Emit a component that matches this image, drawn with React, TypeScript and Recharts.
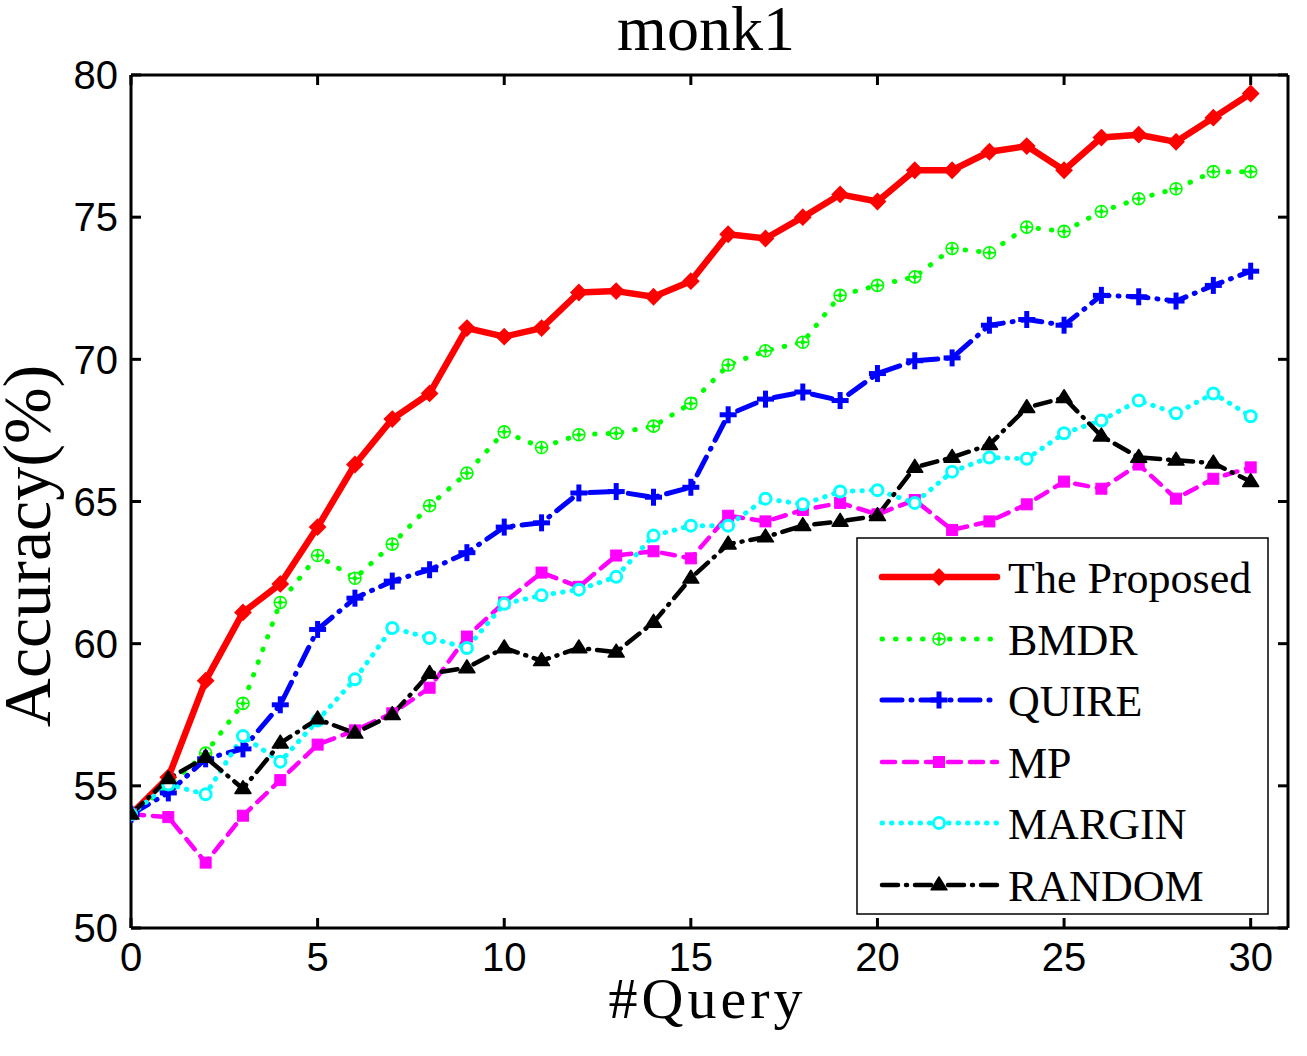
import React from 'react';
import { LineChart, Line, XAxis, YAxis, Label } from 'recharts';

const queries = [0, 1, 2, 3, 4, 5, 6, 7, 8, 9, 10, 11, 12, 13, 14, 15, 16, 17, 18, 19, 20, 21, 22, 23, 24, 25, 26, 27, 28, 29, 30];
const proposed = [54.0, 55.3, 58.7, 61.1, 62.1, 64.1, 66.3, 67.9, 68.8, 71.1, 70.8, 71.1, 72.35, 72.4, 72.2, 72.75, 74.4, 74.25, 75.0, 75.8, 75.55, 76.65, 76.65, 77.3, 77.5, 76.65, 77.8, 77.9, 77.65, 78.5, 79.35];
const bmdr = [54.0, 55.0, 56.15, 57.9, 61.45, 63.1, 62.3, 63.5, 64.85, 66.0, 67.45, 66.9, 67.35, 67.4, 67.65, 68.45, 69.8, 70.3, 70.6, 72.25, 72.6, 72.9, 73.9, 73.75, 74.65, 74.5, 75.2, 75.65, 76.0, 76.6, 76.6];
const quire = [54.0, 54.75, 55.95, 56.3, 57.85, 60.5, 61.6, 62.2, 62.6, 63.2, 64.1, 64.25, 65.3, 65.35, 65.15, 65.5, 68.05, 68.6, 68.85, 68.55, 69.5, 69.95, 70.05, 71.2, 71.4, 71.2, 72.25, 72.2, 72.05, 72.6, 73.1];
const mp = [54.0, 53.9, 52.3, 53.95, 55.2, 56.45, 56.95, 57.55, 58.45, 60.25, 61.45, 62.5, 62.0, 63.1, 63.25, 63.0, 64.5, 64.3, 64.7, 64.95, 64.55, 65.05, 64.0, 64.3, 64.9, 65.7, 65.45, 66.3, 65.1, 65.8, 66.2];
const margin = [54.0, 55.05, 54.7, 56.75, 55.85, 57.3, 58.75, 60.55, 60.2, 59.85, 61.4, 61.7, 61.9, 62.35, 63.8, 64.15, 64.15, 65.1, 64.9, 65.35, 65.4, 64.95, 66.05, 66.55, 66.5, 67.4, 67.85, 68.55, 68.1, 68.8, 68.0];
const random = [54.0, 55.25, 56.0, 54.9, 56.5, 57.35, 56.85, 57.5, 58.95, 59.15, 59.85, 59.4, 59.85, 59.7, 60.75, 62.3, 63.5, 63.75, 64.15, 64.3, 64.5, 66.2, 66.55, 67.0, 68.3, 68.65, 67.3, 66.55, 66.45, 66.35, 65.7];

const xTicks = [0, 5, 10, 15, 20, 25, 30];
const yTicks = [50, 55, 60, 65, 70, 75, 80];

const data = queries.map((q, i) => ({
  q,
  proposed: proposed[i],
  bmdr: bmdr[i],
  quire: quire[i],
  mp: mp[i],
  margin: margin[i],
  random: random[i],
}));

type Kind = 'diamond' | 'oplus' | 'plus' | 'square' | 'circle' | 'triangle';

const SERIES: { key: string; name: string; color: string; width: number; dash?: string; marker: Kind }[] = [
  { key: 'proposed', name: 'The Proposed', color: '#ff0000', width: 6.5, marker: 'diamond' },
  { key: 'bmdr', name: 'BMDR', color: '#00ff00', width: 5, dash: '0.5 13', marker: 'oplus' },
  { key: 'quire', name: 'QUIRE', color: '#0000ff', width: 5, dash: '20 9 1 9', marker: 'plus' },
  { key: 'mp', name: 'MP', color: '#ff00ff', width: 4.5, dash: '13 9', marker: 'square' },
  { key: 'margin', name: 'MARGIN', color: '#00ffff', width: 5, dash: '0.5 9', marker: 'circle' },
  { key: 'random', name: 'RANDOM', color: '#000000', width: 4.5, dash: '16 8 1 8', marker: 'triangle' },
];

function drawMarker(kind: Kind, cx: number, cy: number, color: string) {
  switch (kind) {
    case 'diamond': {
      const r = 7.5;
      return (
        <polygon
          points={`${cx},${cy - r} ${cx + r},${cy} ${cx},${cy + r} ${cx - r},${cy}`}
          fill={color}
          stroke={color}
          strokeWidth={2}
        />
      );
    }
    case 'oplus': {
      const r = 6;
      return (
        <g>
          <circle cx={cx} cy={cy} r={r} fill="#ffffff" stroke={color} strokeWidth={1.6} />
          <line x1={cx - r} y1={cy} x2={cx + r} y2={cy} stroke={color} strokeWidth={1.6} />
          <line x1={cx} y1={cy - r} x2={cx} y2={cy + r} stroke={color} strokeWidth={1.6} />
          <circle cx={cx} cy={cy} r={2.2} fill={color} />
        </g>
      );
    }
    case 'plus': {
      const r = 8.5;
      return (
        <g>
          <line x1={cx - r} y1={cy} x2={cx + r} y2={cy} stroke={color} strokeWidth={5} />
          <line x1={cx} y1={cy - r} x2={cx} y2={cy + r} stroke={color} strokeWidth={5} />
        </g>
      );
    }
    case 'square': {
      const s = 11;
      return <rect x={cx - s / 2} y={cy - s / 2} width={s} height={s} fill={color} stroke={color} strokeWidth={1} />;
    }
    case 'circle':
      return <circle cx={cx} cy={cy} r={5.5} fill="#ffffff" stroke={color} strokeWidth={3} />;
    case 'triangle': {
      const r = 8;
      return (
        <polygon
          points={`${cx},${cy - r} ${cx + r},${cy + r * 0.6} ${cx - r},${cy + r * 0.6}`}
          fill={color}
          stroke={color}
          strokeWidth={1.5}
          strokeLinejoin="round"
        />
      );
    }
  }
  return null;
}

const serif = "'Liberation Serif', 'Times New Roman', serif";

const LegendBox = () => {
  const rowY = [40, 102, 163, 225, 286, 348];
  return (
    <svg width={414} height={379} style={{ display: 'block' }}>
      <rect x={1} y={1} width={411} height={376} fill="#ffffff" stroke="#000000" strokeWidth={1.5} />
      {SERIES.map((s, i) => (
        <g key={s.key}>
          <line
            x1={26}
            y1={rowY[i]}
            x2={141}
            y2={rowY[i]}
            stroke={s.color}
            strokeWidth={s.width}
            strokeDasharray={s.dash}
            strokeLinecap="round"
          />
          {drawMarker(s.marker, 83, rowY[i], s.color)}
          <text x={152} y={rowY[i] + 16} fontFamily={serif} fontSize={44} fill="#000000">
            {s.name}
          </text>
        </g>
      ))}
    </svg>
  );
};

const axisLine = { stroke: '#000000', strokeWidth: 3 };
const tickLine = { stroke: '#000000', strokeWidth: 3 };
const tickFont = { fontFamily: "'Liberation Sans', Arial, sans-serif", fontSize: 40, fill: '#000000' };

export default function App() {
  return (
    <div style={{ width: 1307, height: 1056, position: 'relative', background: '#ffffff' }}>
      <style>{'body{margin:0;background:#ffffff;}'}</style>
      <LineChart
        width={1307}
        height={1056}
        data={data}
        margin={{ top: 74, right: 18, left: 0, bottom: 0 }}
      >
        <XAxis
          dataKey="q"
          type="number"
          domain={[0, 31]}
          ticks={xTicks}
          allowDataOverflow
          height={128}
          axisLine={axisLine}
          tickLine={tickLine}
          tickSize={-10}
          tickMargin={25}
          tick={tickFont}
        >
          <Label
            content={(props: any) => {
              const vb = props.viewBox || {};
              return (
                <text
                  x={vb.x + vb.width / 2 - 2}
                  y={1018}
                  textAnchor="middle"
                  fontFamily={serif}
                  fontSize={58}
                  letterSpacing={4}
                  fill="#000000"
                >
                  #Query
                </text>
              );
            }}
          />
        </XAxis>
        <XAxis
          xAxisId="top"
          orientation="top"
          dataKey="q"
          type="number"
          domain={[0, 31]}
          ticks={xTicks}
          allowDataOverflow
          height={1}
          axisLine={axisLine}
          tickLine={tickLine}
          tickSize={-10}
          tickFormatter={() => ''}
        />
        <YAxis
          type="number"
          domain={[50, 80]}
          ticks={yTicks}
          allowDataOverflow
          width={131}
          axisLine={axisLine}
          tickLine={tickLine}
          tickSize={-10}
          tickMargin={23}
          tick={tickFont}
        >
          <Label
            content={() => (
              <text
                x={50}
                y={546}
                transform="rotate(-90 50 546)"
                textAnchor="middle"
                fontFamily={serif}
                fontSize={68}
                fill="#000000"
              >
                Accuracy(%)
              </text>
            )}
          />
        </YAxis>
        <YAxis
          yAxisId="right"
          orientation="right"
          type="number"
          domain={[50, 80]}
          ticks={yTicks}
          allowDataOverflow
          width={1}
          axisLine={axisLine}
          tickLine={tickLine}
          tickSize={-10}
          tickFormatter={() => ''}
        >
          <Label
            content={() => (
              <text x={706} y={50} textAnchor="middle" fontFamily={serif} fontSize={64} fill="#000000">
                monk1
              </text>
            )}
          />
        </YAxis>
        {SERIES.map((s) => (
          <Line
            key={s.key}
            dataKey={s.key}
            name={s.name}
            type="linear"
            stroke={s.color}
            strokeWidth={s.width}
            strokeDasharray={s.dash}
            strokeLinecap="round"
            strokeLinejoin="round"
            isAnimationActive={false}
            activeDot={false}
            dot={(p: any) => <g key={`${s.key}-${p.index}`}>{drawMarker(s.marker, p.cx, p.cy, s.color)}</g>}
          />
        ))}
      </LineChart>
      <div style={{ position: 'absolute', left: 856, top: 537, width: 414, height: 379 }}>
        <LegendBox />
      </div>
    </div>
  );
}
